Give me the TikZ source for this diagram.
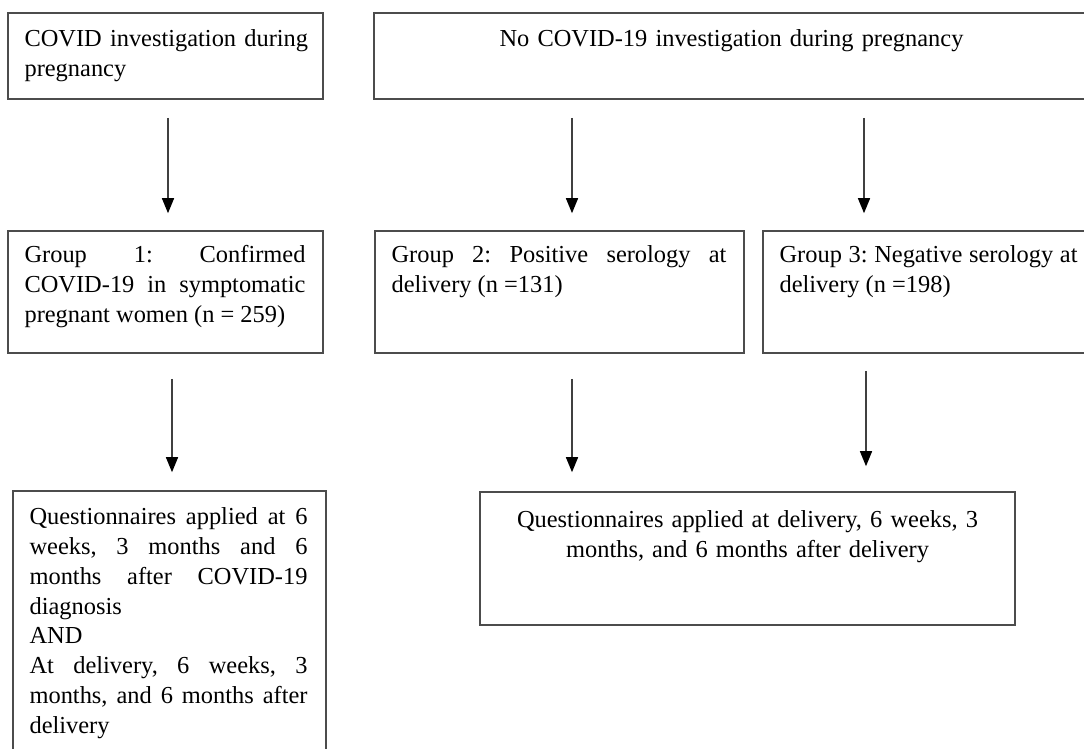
\documentclass[tikz,border=0pt]{standalone}
\usepackage{fontspec}
\setmainfont{Liberation Serif}
\usetikzlibrary{calc,fit,arrows.meta}
\begin{document}
\begin{tikzpicture}[x=0.02cm,y=-0.02cm,
    frame/.style={draw=black!70,line width=0.9pt,inner sep=0pt},
    txt/.style={inner sep=0pt,anchor=north west,align=justify,font=\fontsize{13.9}{17}\selectfont\frenchspacing},
    arr/.style={draw=black!75,line width=0.8pt,-{Triangle[width=0.24cm,length=0.3cm,black]}}]
  \useasboundingbox (0,0) rectangle (1084,749);
  \clip (0,0) rectangle (1084,749);
  \node[frame,fit={(8,13) (323,99)}](fA){};
  \node[frame,fit={(374,13) (1092,99)}](fB){};
  \node[frame,fit={(8,231) (323,353)}](fG1){};
  \node[frame,fit={(375,231) (744,353)}](fG2){};
  \node[frame,fit={(763,231) (1092,353)}](fG3){};
  \node[frame,fit={(13,491) (326,760)}](fQ1){};
  \node[frame,fit={(480,492) (1015,625)}](fQ2){};
  \node[txt,align=left,text width=6cm](tA) at ($(fA.north west)+(17,17)$) {COVID investigation during\\pregnancy};
  \node[txt,anchor=north,align=center,text width=12cm](tB) at ($(fA.north)+(566,17)$) {No COVID-19 investigation during pregnancy};
  \node[txt,text width=5.62cm](tG1) at ($(fG1.north west)+(17,15)$) {Group 1: Confirmed\linebreak COVID-19 in symptomatic\linebreak pregnant women (n = 259)};
  \node[txt,text width=6.7cm](tG2) at ($(fG2.north west)+(17,15)$) {Group 2: Positive serology at\linebreak delivery (n =131)};
  \node[txt,text width=5.96cm](tG3) at ($(fG3.north west)+(17,15)$) {Group 3: Negative serology at\linebreak delivery (n =198)};
  \node[txt,text width=5.56cm](tQ1) at ($(fQ1.north west)+(17,17)$) {Questionnaires applied at 6\linebreak weeks, 3 months and 6\linebreak months after COVID-19\linebreak diagnosis\\AND\\At delivery, 6 weeks, 3\linebreak months, and 6 months after\linebreak delivery};
  \node[txt,anchor=north,align=center,text width=10.5cm](tQ2) at ($(fQ2.north)+(0,19)$) {Questionnaires applied at delivery, 6 weeks, 3\\months, and 6 months after delivery};
  \coordinate (c1) at (168,0);
  \coordinate (c2) at (572,0);
  \coordinate (c3) at (864,0);
  \coordinate (d1) at (172,0);
  \coordinate (d3) at (866,0);
  \draw[arr,shorten <=0.36cm,shorten >=0.34cm] (c1 |- fA.south) -- (c1 |- fG1.north);
  \draw[arr,shorten <=0.36cm,shorten >=0.34cm] (c2 |- fB.south) -- (c2 |- fG2.north);
  \draw[arr,shorten <=0.36cm,shorten >=0.34cm] (c3 |- fB.south) -- (c3 |- fG3.north);
  \draw[arr,shorten <=0.5cm,shorten >=0.36cm] (d1 |- fG1.south) -- (d1 |- fQ1.north);
  \draw[arr,shorten <=0.5cm,shorten >=0.38cm] (c2 |- fG2.south) -- (c2 |- fQ2.north);
  \draw[arr,shorten <=0.34cm,shorten >=0.5cm] (d3 |- fG3.south) -- (d3 |- fQ2.north);
\end{tikzpicture}
\end{document}
